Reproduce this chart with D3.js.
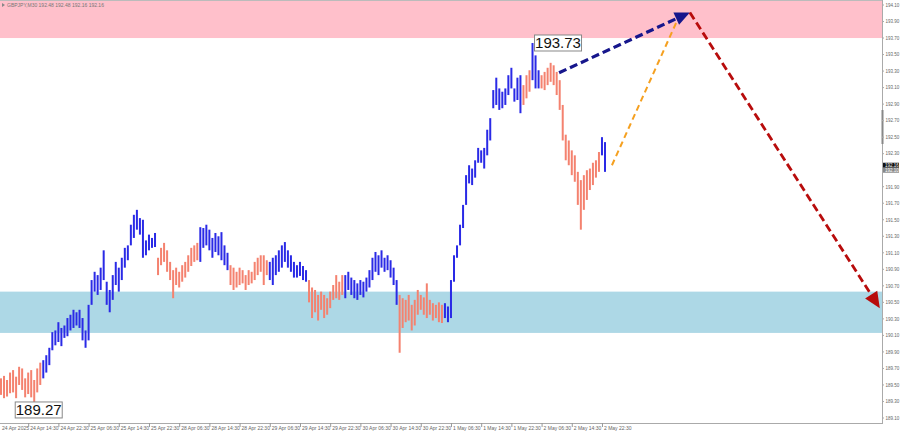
<!DOCTYPE html>
<html><head><meta charset="utf-8">
<script src="https://cdn.jsdelivr.net/npm/d3@7"></script>
<style>html,body{margin:0;padding:0;background:#fff;overflow:hidden;} svg{display:block;font-family:"Liberation Sans",Arial,sans-serif;}</style>
</head><body><svg id="c" width="900" height="433"></svg>
<script>
// ---- DATA ----
const highs = [189.58,189.61,189.56,189.65,189.68,189.60,189.72,189.70,189.58,189.65,
189.68,189.56,189.70,189.77,189.80,189.86,189.95,190.14,190.16,190.26,
190.19,190.22,190.31,190.35,190.41,190.38,190.41,190.31,190.16,190.47,
190.77,190.87,190.83,190.92,191.13,190.75,190.65,190.83,190.99,190.92,
191.04,191.16,191.19,191.44,191.56,191.62,191.52,191.50,191.25,191.32,
191.28,191.34,191.04,191.16,191.22,191.13,190.99,190.89,190.92,190.87,
190.95,190.99,191.07,191.16,191.19,191.22,191.41,191.40,191.44,191.38,
191.28,191.34,191.30,191.35,191.19,191.10,190.95,190.92,190.87,190.92,
190.89,190.83,190.89,190.87,190.99,191.04,191.07,191.07,191.01,190.99,
191.04,191.07,191.13,191.19,191.23,191.13,191.07,190.99,190.95,190.99,
190.94,190.89,190.77,190.68,190.65,190.59,190.63,190.59,190.55,190.63,
190.71,190.83,190.75,190.83,190.83,190.87,190.80,190.77,190.73,190.77,
190.75,190.80,190.89,191.04,191.11,191.07,191.13,191.04,191.07,191.01,
190.92,190.77,190.59,190.55,190.53,190.59,190.47,190.53,190.65,190.59,
190.56,190.73,190.53,190.49,190.47,190.50,190.47,190.49,190.45,190.77,
191.07,191.19,191.44,191.68,192.04,192.16,192.12,192.22,192.37,192.34,
192.37,192.59,192.73,193.07,193.22,193.09,193.05,193.09,193.25,193.34,
193.09,193.22,193.25,193.13,193.25,193.31,193.64,193.49,193.31,193.25,
193.29,193.34,193.40,193.37,193.29,193.19,192.89,192.53,192.46,192.34,
192.28,192.08,191.98,192.04,192.10,192.12,192.19,192.22,192.32,192.50,
192.44];
const lows = [189.38,189.34,189.36,189.40,189.41,189.34,189.50,189.44,189.35,189.39,
189.35,189.27,189.41,189.50,189.58,189.65,189.74,189.92,189.98,190.02,
189.97,190.07,190.09,190.16,190.19,190.22,190.19,190.04,189.95,190.04,
190.47,190.63,190.59,190.65,190.77,190.47,190.38,190.53,190.71,190.63,
190.77,190.92,191.01,191.19,191.28,191.38,191.32,191.04,191.07,191.13,
191.16,191.17,190.83,190.95,190.99,190.87,190.77,190.55,190.71,190.68,
190.75,190.80,190.87,190.94,190.99,191.01,190.99,191.16,191.19,191.13,
191.04,191.11,191.07,191.01,190.95,190.89,190.71,190.65,190.68,190.71,
190.73,190.65,190.71,190.73,190.77,190.83,190.87,190.71,190.83,190.77,
190.71,190.83,190.87,190.92,190.99,190.92,190.87,190.80,190.80,190.82,
190.77,190.75,190.50,190.31,190.38,190.28,190.41,190.31,190.35,190.43,
190.53,190.55,190.53,190.59,190.55,190.65,190.59,190.55,190.53,190.59,
190.56,190.63,190.68,190.77,190.87,190.83,190.92,190.87,190.89,190.80,
190.71,190.47,189.89,190.19,190.26,190.28,190.16,190.22,190.35,190.41,
190.35,190.31,190.35,190.28,190.31,190.26,190.25,190.31,190.26,190.31,
190.75,191.04,191.19,191.40,191.68,191.94,191.92,192.01,192.19,192.19,
192.12,192.28,192.46,192.85,192.89,192.83,192.85,192.89,193.01,193.09,
192.93,192.95,192.79,192.89,192.97,193.05,193.19,193.09,193.09,193.09,
193.07,193.13,193.17,193.13,193.01,192.83,192.46,192.22,192.16,192.04,
191.96,191.68,191.38,191.62,191.74,191.86,191.92,192.01,192.08,192.28,
192.08];
// wave segments: [first bar, last bar, direction]
const waves = [[0,13,"down"],[14,51,"up"],[52,65,"down"],[66,75,"up"],[76,88,"down"],
[89,101,"up"],[102,113,"down"],[114,131,"up"],[132,146,"down"],[147,172,"up"],
[173,175,"down"],[176,178,"up"],[179,198,"down"],[199,200,"up"]];
const priceTicks = [189.10,189.30,189.50,189.70,189.90,190.10,190.30,190.50,190.70,190.90,
191.10,191.30,191.50,191.70,191.90,192.30,192.50,192.70,192.90,193.10,193.30,193.50,193.70,193.90,194.10];
const timeLabels = ["24 Apr 2025","24 Apr 14:30","24 Apr 22:30","25 Apr 06:30","25 Apr 14:30","25 Apr 22:30",
"28 Apr 06:30","28 Apr 14:30","28 Apr 22:30","29 Apr 06:30","29 Apr 14:30","29 Apr 22:30",
"30 Apr 06:30","30 Apr 14:30","30 Apr 22:30","1 May 06:30","1 May 14:30","1 May 22:30",
"2 May 06:30","2 May 14:30","2 May 22:30"];
const timeLabelBars = [0,9,19,29,39,49,59,69,79,89,99,109,119,129,139,149,159,169,179,189,199];
const resistanceZone = [193.70, 194.40];
const supportZone = [190.13, 190.63];
const extremeLabels = [{bar:176, price:193.64, text:"193.73", pos:"right"},{bar:11, price:189.27, text:"189.27", pos:"below"}];
const forecastUp = [[184.8, 193.28],[228.1, 194.01]];
const forecastAlt = [[202.3, 192.16],[224.0, 193.92]];
const forecastDown = [[228.1, 194.01],[291.0, 190.43]];
const headerText = "GBPJPY,M30  192.48 192.48 192.16 192.16";
const bidPrice = "192.16", askPrice = "192.10";

// ---- CHART ----
const svg = d3.select("#c");
const W = 882;
const x = d3.scaleLinear().domain([0,200]).range([1,605]);
const y = d3.scaleLinear().domain([189.10,194.10]).range([418,5]);

// zones
svg.append("rect").attr("x",0).attr("width",W).attr("y",y(resistanceZone[1])).attr("height",y(resistanceZone[0])-y(resistanceZone[1])).attr("fill","#ffc0cb");
svg.append("rect").attr("x",0).attr("width",W).attr("y",y(supportZone[1])).attr("height",y(supportZone[0])-y(supportZone[1])).attr("fill","#add8e6");

// bars
const colorOf = i => { const w = waves.find(s => i>=s[0] && i<=s[1]); return w[2]==="up" ? "#2a2ae6" : "#f4826f"; };
svg.append("g").selectAll("rect").data(highs).join("rect")
  .attr("x",(d,i)=>x(i)-1).attr("width",2)
  .attr("y",(d,i)=>y(d)).attr("height",(d,i)=>Math.max(1,y(lows[i])-y(d)))
  .attr("fill",(d,i)=>colorOf(i));

// forecast arrows
function arrow(pts,color,width,dash,head){
  const p0=[x(pts[0][0]),y(pts[0][1])], p1=[x(pts[1][0]),y(pts[1][1])];
  const ang=Math.atan2(p1[1]-p0[1],p1[0]-p0[0]);
  const L=head?head:0;
  const e=[p1[0]-Math.cos(ang)*L*0.8,p1[1]-Math.sin(ang)*L*0.8];
  svg.append("line").attr("x1",p0[0]).attr("y1",p0[1]).attr("x2",e[0]).attr("y2",e[1])
    .attr("stroke",color).attr("stroke-width",width).attr("stroke-dasharray",dash);
  if(head){
    const w=head*0.45;
    const b=[p1[0]-Math.cos(ang)*head,p1[1]-Math.sin(ang)*head];
    const pts2=[p1,[b[0]+Math.sin(ang)*w,b[1]-Math.cos(ang)*w],[b[0]-Math.sin(ang)*w,b[1]+Math.cos(ang)*w]];
    svg.append("polygon").attr("points",pts2.map(p=>p.join(",")).join(" ")).attr("fill",color);
  }
}
arrow(forecastAlt,"#f5a020",2,"6,4",0);
arrow(forecastUp,"#16168c",3.2,"8,4",15);
arrow(forecastDown,"#b80c0c",2.8,"8,4",16);

// extreme labels
extremeLabels.forEach(l=>{
  const g=svg.append("g");
  const t=g.append("text").text(l.text).attr("font-size",15).attr("fill","#111");
  const bw=47, bh=16;
  let bx,by;
  if(l.pos==="right"){bx=x(l.bar)+2; by=y(l.price)-8;} else {bx=x(l.bar)-19; by=y(l.price)-2;}
  g.insert("rect","text").attr("x",bx).attr("y",by).attr("width",bw).attr("height",bh).attr("fill","#fff").attr("stroke","#888").attr("stroke-width",1);
  t.attr("x",bx+bw/2).attr("y",by+bh-2.5).attr("text-anchor","middle");
});

// right price axis
svg.append("line").attr("x1",W+0.5).attr("x2",W+0.5).attr("y1",0).attr("y2",424).attr("stroke","#aaa").attr("stroke-width",1);
svg.append("rect").attr("x",W-0.5).attr("width",2).attr("y",110).attr("height",34).attr("fill","#888");
const ra=svg.append("g");
priceTicks.forEach(p=>{
  ra.append("line").attr("x1",W).attr("x2",W+2).attr("y1",y(p)).attr("y2",y(p)).attr("stroke","#aaa");
  ra.append("text").text(p.toFixed(2)).attr("x",W+3.5).attr("y",y(p)+1.8).attr("font-size",4.5).attr("fill","#666");
});
svg.append("rect").attr("x",W+1).attr("y",y(+bidPrice)-2.5).attr("width",16).attr("height",5).attr("fill","#111");
svg.append("text").text(bidPrice).attr("x",W+3).attr("y",y(+bidPrice)+1.7).attr("font-size",4.5).attr("fill","#fff");
svg.append("rect").attr("x",W+1).attr("y",y(+bidPrice)+2.5).attr("width",16).attr("height",5).attr("fill","#888");
svg.append("text").text(askPrice).attr("x",W+3).attr("y",y(+bidPrice)+6.7).attr("font-size",4.5).attr("fill","#fff");

// bottom time axis
svg.append("line").attr("x1",0).attr("x2",W+1).attr("y1",423.5).attr("y2",423.5).attr("stroke","#aaa");
const ta=svg.append("g");
timeLabels.forEach((s,k)=>{
  const bx = k===0 ? 0 : x(timeLabelBars[k]);
  if(k>0) ta.append("line").attr("x1",bx+0.5).attr("x2",bx+0.5).attr("y1",423).attr("y2",427).attr("stroke","#999");
  ta.append("text").text(s).attr("x",bx+2).attr("y",429.5).attr("font-size",5).attr("fill","#666");
});

// header
svg.append("line").attr("x1",0).attr("x2",W).attr("y1",0.5).attr("y2",0.5).attr("stroke","#bbb");
svg.append("polygon").attr("points","2,3 5,5 2,7").attr("fill","#888");
svg.append("text").text(headerText).attr("x",7).attr("y",7).attr("font-size",5).attr("fill","#777");
</script></body></html>
